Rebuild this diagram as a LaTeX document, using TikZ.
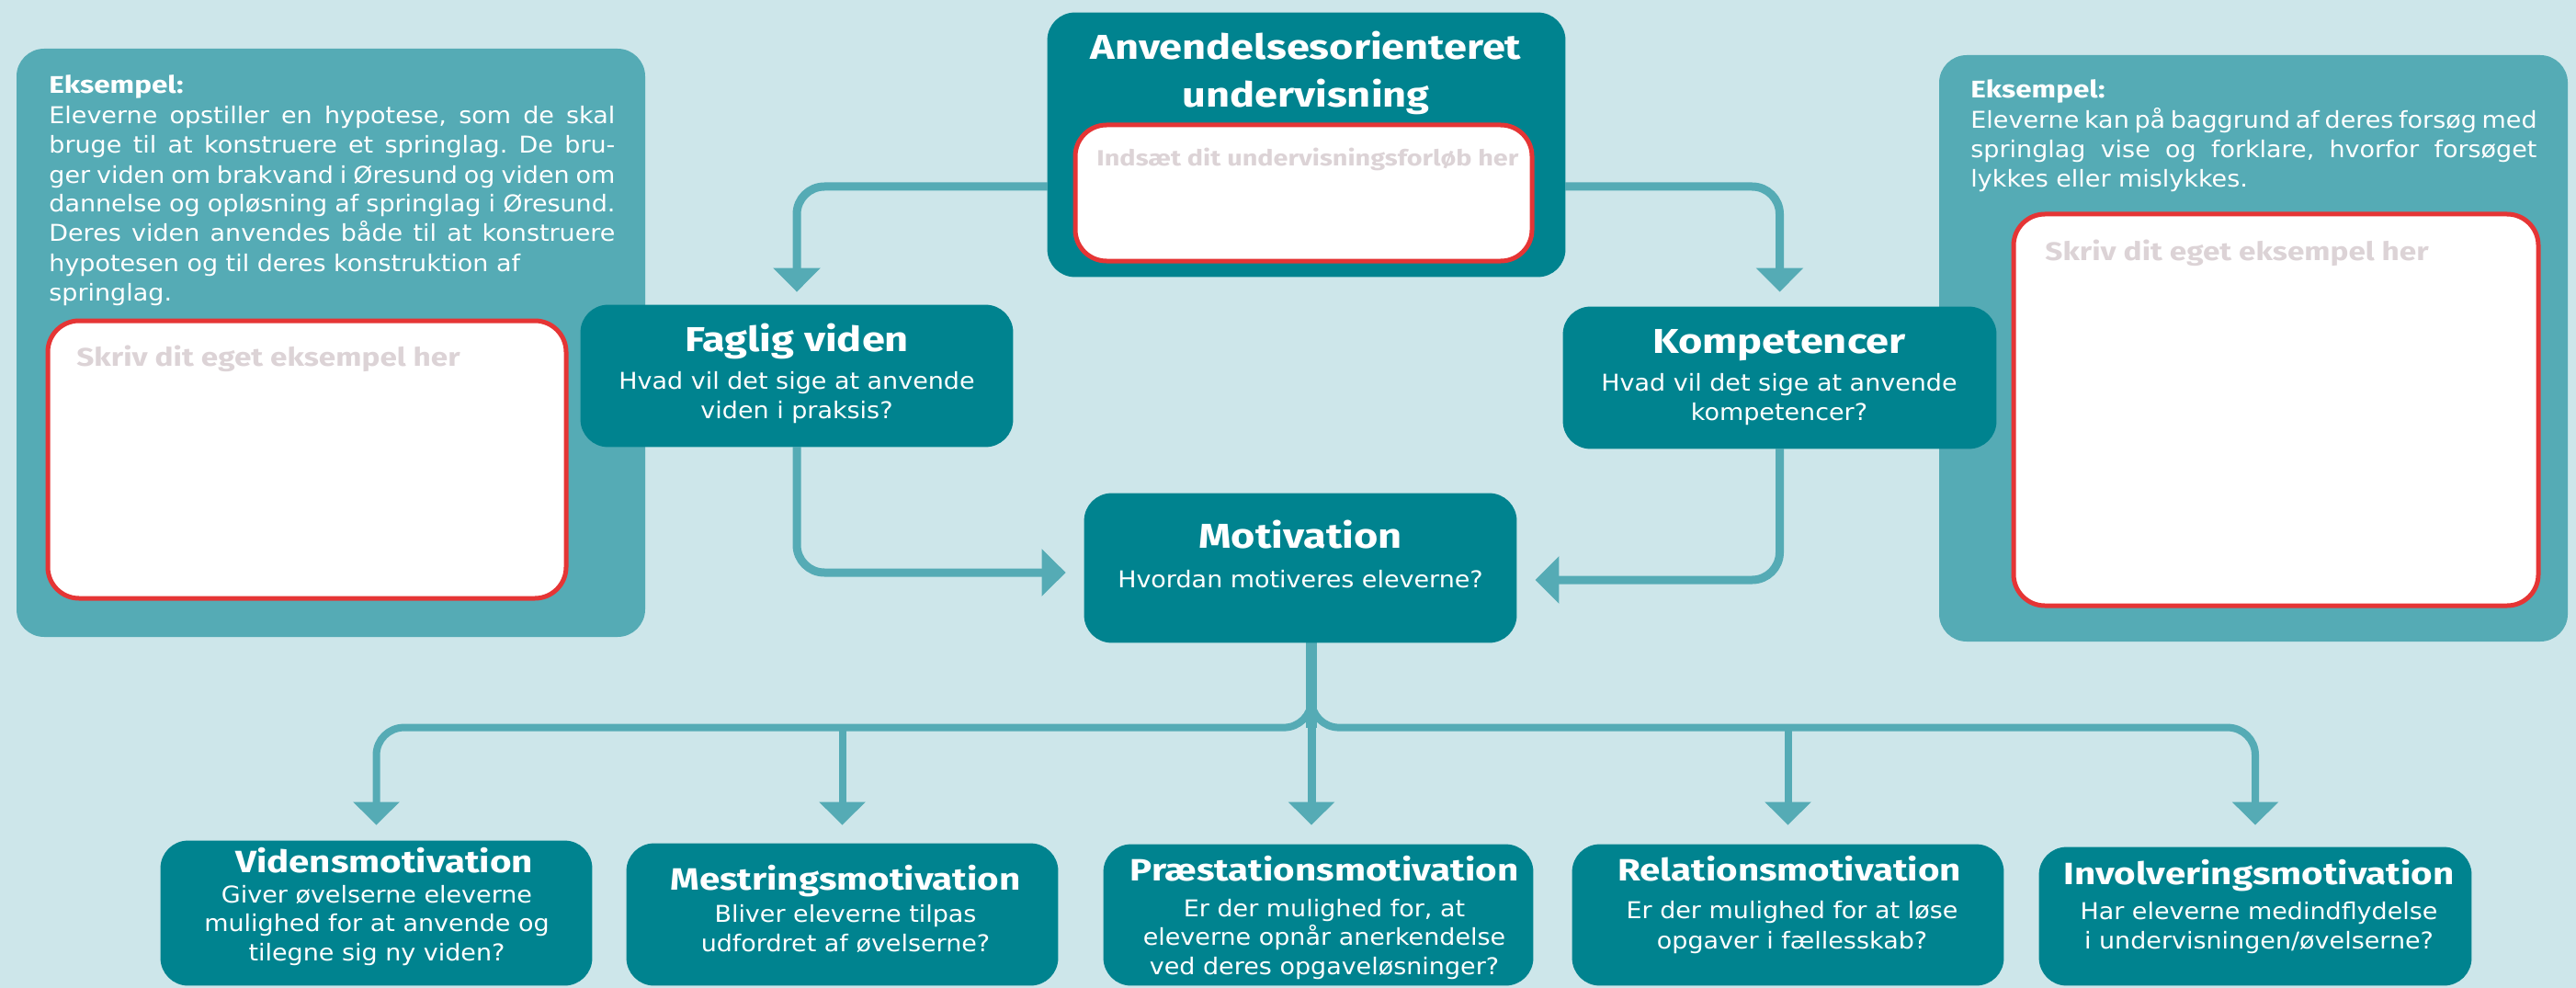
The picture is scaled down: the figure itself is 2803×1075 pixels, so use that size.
\documentclass[tikz,border=0pt]{standalone}
\usepackage{fontspec}
\setmainfont{DejaVu Sans}[FakeStretch=1.07]
\newfontfamily\titlefont{Fira Sans}[FakeStretch=1.2]
\usetikzlibrary{arrows.meta,fit,calc}
\frenchspacing
\definecolor{bgc}{HTML}{CDE6EA}
\definecolor{darkt}{HTML}{00838F}
\definecolor{midt}{HTML}{55ABB5}
\definecolor{redc}{HTML}{E53535}
\definecolor{phc}{HTML}{DCD3D6}
\tikzset{
  darkbox/.style={fill=darkt, rounded corners=15pt, inner sep=0pt, draw=none},
  exbox/.style={fill=midt, rounded corners=15pt, inner sep=0pt, draw=none},
  whitebox/.style={fill=white, draw=redc, line width=2.5pt, rounded corners=17pt, inner sep=0pt},
  ttl/.style={text=white, inner sep=0pt, anchor=base, font=\titlefont\bfseries\fontsize{18.8}{22}\selectfont},
  sttl/.style={ttl, font=\titlefont\bfseries\fontsize{16.8}{20}\selectfont},
  sub/.style={text=white, inner sep=0pt, anchor=base, font=\fontsize{12.6}{15}\selectfont},
  extext/.style={text=white, inner sep=0pt, anchor=base west, font=\fontsize{12.6}{15}\selectfont},
  exhead/.style={text=white, inner sep=0pt, anchor=base west, font=\titlefont\bfseries\fontsize{13.1}{15}\selectfont},
  ph/.style={text=phc, inner sep=0pt, anchor=base west, font=\titlefont\bfseries\fontsize{13.9}{16}\selectfont},
  conn/.style={draw=midt, line width=4.5pt, rounded corners=15pt, -{Triangle[width=25pt,length=13pt]}},
  busline/.style={draw=midt, line width=4pt, rounded corners=15pt, -{Triangle[width=24.5pt,length=12.5pt]}},
}
\begin{document}
\begin{tikzpicture}[x=0.5pt,y=-0.5pt]
\useasboundingbox (0,0) rectangle (2803,1075);
\fill[bgc] (0,0) rectangle (2803,1075);

% example panels
\node[exbox, fit={(18,53) (702,693)}] (lex) {};
\node[exbox, fit={(2110,60) (2794,698)}] (rex) {};
\node[whitebox, fit={(52,349) (616,651)}] (lwhite) {};
\node[whitebox, fit={(2191,233) (2762,659)}] (rwhite) {};

% main boxes (geometry)
\path (1140,14) coordinate (topA) (1703,301) coordinate (topB);
\node[inner sep=0pt, fit=(topA)(topB)] (top) {};
\node[inner sep=0pt, fit={(632,332) (1102,486)}] (faglig) {};
\node[inner sep=0pt, fit={(1701,334) (2172,488)}] (komp) {};
\node[inner sep=0pt, fit={(1180,537) (1650,699)}] (motiv) {};
\node[inner sep=0pt, fit={(175,915) (644,1072)}] (videns) {};
\node[inner sep=0pt, fit={(682,918) (1151,1072)}] (mestr) {};
\node[inner sep=0pt, fit={(1201,919) (1668,1072)}] (prae) {};
\node[inner sep=0pt, fit={(1711,919) (2180,1072)}] (relat) {};
\node[inner sep=0pt, fit={(2219,922) (2689,1072)}] (involv) {};

% connectors
\draw[conn, shorten >=7pt] ($(top.west)+(0,45.5)$) -| (faglig.north);
\draw[conn, shorten >=8pt] ($(top.east)+(0,45.5)$) -| (komp.north);
\draw[conn, shorten >=10pt] (faglig.south) |- ($(motiv.west)+(0,5)$);
\draw[conn, shorten >=10pt] (komp.south) |- ($(motiv.east)+(0,13)$);

\coordinate (trk) at ($(motiv.south)+(12,0)$);
\draw[busline, shorten >=8.5pt] (trk) |- ($(videns.north)+(0,-123)$) -- (videns.north);
\draw[busline, shorten >=12pt] (trk) |- ($(involv.north)+(0,-130)$) -- (involv.north);
\draw[busline, shorten >=10pt] ($(mestr.north)+(0,-126)$) -- (mestr.north);
\draw[busline, shorten >=10.5pt] ($(relat.north)+(0,-127)$) -- (relat.north);
\draw[midt, line width=6pt] (trk) -- ($(trk)+(0,93)$) coordinate (junc);
\draw[busline, line width=4.5pt, shorten >=10.5pt] (junc) -- (junc |- prae.north);

% filled boxes on top
\foreach \b in {top,faglig,komp,motiv,videns,mestr,prae,relat,involv}{
  \fill[darkt, rounded corners=15pt] (\b.north west) rectangle (\b.south east);
}
\node[whitebox, fit={(1170,136) (1667,284)}] (twhite) {};

% texts: top
\node[ttl] (t1) at (1421,65) {Anvendelsesorienteret};
\node[ttl] (t2) at (1421,117) {undervisning};
\node[ph, font=\titlefont\bfseries\fontsize{12}{14}\selectfont] (tph) at (1193,181) {Indsæt dit undervisningsforløb her};

% faglig
\node[ttl] (ft) at (867,382) {Faglig viden};
\node[sub] (fs1) at (867,423) {Hvad vil det sige at anvende};
\node[sub] (fs2) at (867,455) {viden i praksis?};
% komp
\node[ttl] (kt) at (1936,384) {Kompetencer};
\node[sub] (ks1) at (1936,425) {Hvad vil det sige at anvende};
\node[sub] (ks2) at (1936,457) {kompetencer?};
% motivation
\node[ttl] (mt) at (1415,596) {Motivation};
\node[sub] (ms1) at (1415,639) {Hvordan motiveres eleverne?};

% bottom
\node[sttl] (vt) at (418,949) {Vidensmotivation};
\node[sub] (vs1) at (410,982) {Giver øvelserne eleverne};
\node[sub] (vs2) at (410,1013) {mulighed for at anvende og};
\node[sub] (vs3) at (410,1045) {tilegne sig ny viden?};

\node[sttl] (met) at (920,968) {Mestringsmotivation};
\node[sub] (mes1) at (920,1003) {Bliver eleverne tilpas};
\node[sub] (mes2) at (920,1035) {udfordret af øvelserne?};

\node[sttl] (pt) at (1441,958) {Præstationsmotivation};
\node[sub] (ps1) at (1441,997) {Er der mulighed for, at};
\node[sub] (ps2) at (1441,1028) {eleverne opnår anerkendelse};
\node[sub] (ps3) at (1441,1060) {ved deres opgaveløsninger?};

\node[sttl] (rt) at (1947,958) {Relationsmotivation};
\node[sub] (rs1) at (1950,999) {Er der mulighed for at løse};
\node[sub] (rs2) at (1950,1032) {opgaver i fællesskab?};

\node[sttl] (it) at (2458,962) {Involveringsmotivation};
\node[sub] (is1) at (2458,1000) {Har eleverne medindflydelse};
\node[sub] (is2) at (2458,1032) {i undervisningen/øvelserne?};

% left example
\node[exhead] (leh) at (53,102) {Eksempel:};
\node[extext] (le1) at (53,135) {\makebox[308pt][s]{Eleverne opstiller en hypotese, som de skal}};
\node[extext] (le2) at (53,167) {\makebox[308pt][s]{bruge til at konstruere et springlag. De bru-}};
\node[extext] (le3) at (53,199) {\makebox[308pt][s]{ger viden om brakvand i Øresund og viden om}};
\node[extext] (le4) at (53,231) {\makebox[308pt][s]{dannelse og opløsning af springlag i Øresund.}};
\node[extext] (le5) at (53,263) {\makebox[308pt][s]{Deres viden anvendes både til at konstruere}};
\node[extext] (le6) at (53,295) {hypotesen og til deres konstruktion af};
\node[extext] (le7) at (53,327) {springlag.};
\node[ph] (lph) at (83,398) {Skriv dit eget eksempel her};

% right example
\node[exhead] (reh) at (2144,107) {Eksempel:};
\node[extext] (re1) at (2144,140) {\makebox[308pt][s]{Eleverne kan på baggrund af deres forsøg med}};
\node[extext] (re2) at (2144,172) {\makebox[308pt][s]{springlag vise og forklare, hvorfor forsøget}};
\node[extext] (re3) at (2144,204) {lykkes eller mislykkes.};
\node[ph] (rph) at (2225,284) {Skriv dit eget eksempel her};
\end{tikzpicture}
\end{document}
